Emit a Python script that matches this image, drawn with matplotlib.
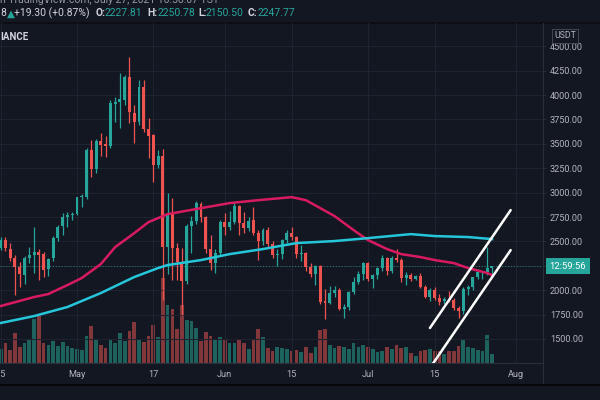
import matplotlib
matplotlib.use("Agg")
import matplotlib.pyplot as plt
import matplotlib.dates as mdates
import matplotlib.transforms as mtransforms
from matplotlib.lines import Line2D
import numpy as np
import pandas as pd

plt.rcParams['font.family'] = ['Roboto', 'DejaVu Sans']

# daily candles, ETHUSDT 1D, Apr 15 - Jul 27 2021
dates = pd.date_range('2021-04-15', '2021-07-27', freq='D')

opens = [
    2432, 2514, 2420, 2330, 2237, 2155, 2329, 2360, 2391, 2370, 2217, 2329, 2534, 2657, 2749, 2770,
    2780, 2954, 2960, 3435, 3240, 3530, 3497, 3476, 3906, 3927, 3947, 4183, 3814, 3722, 4080, 3650,
    3589, 3282, 3374, 2442, 2780, 2432, 2288, 2094, 2657, 2708, 2883, 2749, 2422, 2278, 2380,
    2698, 2647, 2698, 2862, 2688, 2637, 2719, 2585, 2503, 2616, 2473, 2360, 2370, 2514, 2585,
    2545, 2370, 2380, 2237, 2166, 2247, 1890, 1872, 1971, 2002, 1807, 1828, 1981, 2084, 2166,
    2278, 2114, 2155, 2227, 2329, 2196, 2329, 2309, 2125, 2155, 2114, 2145, 2032, 1930, 2002,
    1920, 1889, 1910, 1900, 1817, 1787, 2012, 2032, 2135, 2186, 2190, 2227.81]
highs = [
    2545, 2550, 2480, 2360, 2290, 2350, 2440, 2647, 2420, 2390, 2330, 2560, 2670, 2790, 2800, 2800,
    2960, 2990, 3460, 3538, 3550, 3609, 3580, 3950, 3978, 4224, 4203, 4388, 3900, 4152, 4152, 3763,
    3600, 3440, 3445, 2995, 2944, 2480, 2432, 2680, 2760, 2910, 2900, 2760, 2570, 2420, 2720,
    2790, 2811, 2903, 2870, 2800, 2750, 2852, 2620, 2640, 2650, 2500, 2420, 2530, 2620, 2647,
    2560, 2460, 2390, 2280, 2260, 2260, 2010, 2040, 2040, 2020, 1860, 1990, 2140, 2200, 2290,
    2290, 2170, 2240, 2360, 2340, 2350, 2421, 2330, 2190, 2180, 2160, 2180, 2050, 2020, 2030,
    1960, 1930, 1990, 1920, 1840, 2030, 2050, 2140, 2220, 2200, 2442, 2250.78]
lows = [
    2410, 2400, 2300, 1950, 2032, 2063, 2280, 2176, 2104, 2132, 2150, 2300, 2500, 2570, 2650, 2720,
    2770, 2850, 2940, 3159, 3200, 3380, 3364, 3460, 3722, 3661, 3900, 3712, 3507, 3690, 3620, 3353,
    3108, 3250, 1900, 2170, 2104, 2104, 1750, 2060, 2380, 2680, 2700, 2380, 2207, 2176, 2360,
    2565, 2620, 2680, 2565, 2590, 2610, 2570, 2309, 2460, 2440, 2330, 2247, 2320, 2480, 2510,
    2330, 2300, 2200, 2140, 2053, 1860, 1705, 1860, 1930, 1800, 1715, 1800, 1960, 2060, 2100,
    2090, 2022, 2120, 2200, 2160, 2180, 2290, 2080, 2050, 2090, 2100, 2020, 1920, 1890, 1900,
    1850, 1860, 1880, 1800, 1715, 1760, 1950, 2000, 2110, 2110, 2160, 2150.50]
closes = [
    2514, 2432, 2330, 2237, 2166, 2329, 2360, 2391, 2360, 2207, 2319, 2534, 2647, 2749, 2770, 2780,
    2954, 2970, 3435, 3240, 3530, 3487, 3476, 3917, 3927, 3957, 4183, 3824, 3722, 4080, 3650, 3579,
    3282, 3374, 2442, 2780, 2432, 2288, 2094, 2657, 2708, 2893, 2749, 2422, 2278, 2380, 2698,
    2647, 2698, 2862, 2688, 2637, 2708, 2585, 2503, 2616, 2473, 2360, 2370, 2514, 2585, 2545,
    2370, 2380, 2237, 2166, 2247, 1879, 1872, 1971, 2002, 1807, 1828, 1981, 2084, 2166, 2278,
    2114, 2155, 2227, 2329, 2196, 2329, 2309, 2125, 2155, 2114, 2145, 2032, 1930, 2002, 1920,
    1879, 1910, 1900, 1817, 1787, 2012, 2032, 2135, 2186, 2190, 2227.81, 2247.77]
# volume, thousand ETH
volumes = [
    560, 800, 520, 1200, 640, 800, 960, 1760, 1880, 800, 720, 880, 680, 840, 680, 600,
    560, 520, 1080, 1480, 960, 720, 600, 920, 800, 1200, 880, 1280, 1640, 920, 840, 1080,
    1520, 1040, 3400, 2320, 2160, 1360, 2320, 1720, 1680, 1400, 880, 1240, 1080, 920, 1040,
    960, 800, 800, 920, 800, 560, 920, 1360, 1040, 600, 480, 640, 600, 560, 480,
    520, 440, 640, 400, 640, 1320, 1360, 720, 600, 680, 640, 560, 800, 640, 720,
    640, 560, 440, 480, 640, 560, 720, 600, 640, 400, 280, 480, 520, 560, 480,
    480, 360, 480, 480, 680, 920, 640, 600, 520, 480, 1120, 360]

# moving averages
sma50_dates = ['2021-04-15', '2021-04-22', '2021-04-25', '2021-04-29', '2021-05-02', '2021-05-06',
               '2021-05-09', '2021-05-13', '2021-05-16', '2021-05-20', '2021-05-27', '2021-06-02',
               '2021-06-08', '2021-06-15', '2021-06-18', '2021-06-24', '2021-06-28', '2021-07-01',
               '2021-07-05', '2021-07-08', '2021-07-12', '2021-07-15', '2021-07-19', '2021-07-22',
               '2021-07-26', '2021-07-27']
sma50 = [1838, 1930, 1961, 2053, 2125, 2268, 2442, 2585, 2698, 2780, 2841, 2893,
         2923, 2954, 2923, 2760, 2616, 2514, 2422, 2370, 2340, 2309, 2278, 2227, 2176, 2155]
sma100_dates = ['2021-04-15', '2021-04-22', '2021-04-29', '2021-05-06', '2021-05-13', '2021-05-18',
                '2021-05-20', '2021-05-27', '2021-06-02', '2021-06-09', '2021-06-16', '2021-06-24',
                '2021-07-01', '2021-07-10', '2021-07-15', '2021-07-22', '2021-07-27']
sma100 = [1664, 1735, 1828, 1971, 2135, 2227, 2258, 2309, 2370, 2422, 2483, 2504,
          2534, 2575, 2555, 2545, 2524]

# drawn channel
trend_dates = ['2021-07-14 00:00', '2021-07-30 22:00']
trend_upper = [1613, 2821]
trend_lower = [1203, 2411]

last_price = 2247.77
price_ticks = np.arange(1500, 4501, 250)
time_ticks = ['2021-04-15', '2021-05-01', '2021-05-17', '2021-06-01', '2021-06-15',
              '2021-07-01', '2021-07-15', '2021-08-01']
time_labels = ['15', 'May', '17', 'Jun', '15', 'Jul', '15', 'Aug']

bg = '#131722'
green = '#26a69a'
red = '#ef5350'
txt = '#b2b5be'

x = mdates.date2num(dates)
o = np.array(opens)
c = np.array(closes)
up = c >= o
colors = np.where(up, green, red)
vol_colors = np.where(up, '#1e625e', '#82383a')

fig = plt.figure(figsize=(6, 4), dpi=100, facecolor=bg)
pos = [0, 37 / 400, 543 / 600, 340 / 400]
ax = fig.add_axes(pos)
ax_vol = ax.twinx()
ax.set_zorder(2)
ax_vol.set_zorder(1)
ax.patch.set_visible(False)
ax_vol.patch.set_facecolor(bg)

# volume
ax_vol.bar(x, volumes, width=0.78, color=vol_colors, linewidth=0)
ax_vol.set_ylim(0, 13600)
ax_vol.set_yticks([])
for s in ax_vol.spines.values():
    s.set_visible(False)

# grid
for t in time_ticks:
    ax.axvline(mdates.date2num(pd.Timestamp(t)), color='#1f2330', lw=0.8, zorder=0)
for p in price_ticks:
    ax.axhline(p, color='#1f2330', lw=0.8, zorder=0)

# candles
ax.vlines(x, lows, highs, colors=colors, lw=0.9, zorder=3)
ax.bar(x, np.maximum(np.abs(c - o), 8), bottom=np.minimum(o, c), width=0.62,
       color=colors, linewidth=0, zorder=4)

# moving averages
ax.plot(mdates.date2num(pd.to_datetime(sma50_dates)), sma50, color='#d81b60', lw=1.8, zorder=5)
ax.plot(mdates.date2num(pd.to_datetime(sma100_dates)), sma100, color='#26c6da', lw=1.8, zorder=5)

# channel lines
td = mdates.date2num(pd.to_datetime(trend_dates))
ax.plot(td, trend_upper, color='white', lw=1.8, zorder=6, solid_capstyle='round')
ax.plot(td, trend_lower, color='white', lw=1.8, zorder=6, solid_capstyle='round')

# last price line
ax.axhline(last_price, color=green, lw=0.7, ls=(0, (1, 2)), alpha=0.7, zorder=2)

may1 = mdates.date2num(pd.Timestamp('2021-05-01'))
ax.set_xlim(may1 - 16.14, may1 + 97.7)
ax.set_ylim(1254, 4739)

# the 2250 label sits under the countdown box, so it is left blank
ax.yaxis.tick_right()
ax.set_yticks(price_ticks)
ax.set_yticklabels(['' if p == 2250 else '%.2f' % p for p in price_ticks])
ax.tick_params(axis='y', colors=txt, labelsize=6.6, length=2.5, pad=2.5, width=0.6)
ax.tick_params(axis='y', color='#2a2e39')
ax.set_xticks(mdates.date2num(pd.to_datetime(time_ticks)))
ax.set_xticklabels(time_labels)
ax.tick_params(axis='x', colors=txt, labelsize=6.6, length=0, pad=5)
for s in ax.spines.values():
    s.set_visible(False)

# countdown label on price axis
blend = mtransforms.blended_transform_factory(ax.transAxes, ax.transData)
ax.text(1 + 25 / 543, last_price, '12:59:56', transform=blend, ha='center', va='center',
        color='white', fontsize=6.8, clip_on=False, zorder=10,
        bbox=dict(boxstyle='square,pad=0.4', fc=green, ec='none'))

# frame lines
fig.add_artist(Line2D([0, 1], [1 - 23 / 400] * 2, color='#0b0d12', lw=1.2))
fig.add_artist(Line2D([543 / 600] * 2, [1 - 23 / 400, 1 - 384 / 400], color='#2a2e39', lw=0.8))
fig.add_artist(Line2D([0, 543 / 600], [1 - 363 / 400] * 2, color='#2a2e39', lw=0.8))
fig.add_artist(Line2D([0, 1], [1 - 384.5 / 400] * 2, color='#07080b', lw=1.5))

# header texts
fig.text(0, 1 - 3 / 400, 'n TradingView.com, July 27, 2021 10:58:07 TST', color='#9598a1',
         fontsize=7.5, va='baseline')
pieces = [(0, '8', '#d1d4dc', 'normal'), (7, '\u25b2', green, 'normal'),
          (14, '+19.30 (+0.87%)', '#d1d4dc', 'normal'),
          (96, 'O:', '#d1d4dc', 'bold'), (105, '2227.81', green, 'normal'),
          (147, 'H:', '#d1d4dc', 'bold'), (158, '2250.78', green, 'normal'),
          (198, 'L:', '#d1d4dc', 'bold'), (206, '2150.50', green, 'normal'),
          (248, 'C:', '#d1d4dc', 'bold'), (258, '2247.77', green, 'normal')]
for px, s, col, w in pieces:
    fig.text(px / 600, 1 - 16.3 / 400, s, color=col, fontsize=7.5, fontweight=w, va='baseline')
fig.text(0, 1 - 39.5 / 400, 'IANCE', color='#d1d4dc', fontsize=7, fontweight='bold', va='baseline')
fig.text(565 / 600, 1 - 36 / 400, 'USDT', color=txt, fontsize=6.3, ha='center', va='center',
         zorder=10, bbox=dict(boxstyle='square,pad=0.25', fc=bg, ec='#4a4e5a', lw=0.6))

fig.savefig('out.png', dpi=100, facecolor=fig.get_facecolor())
